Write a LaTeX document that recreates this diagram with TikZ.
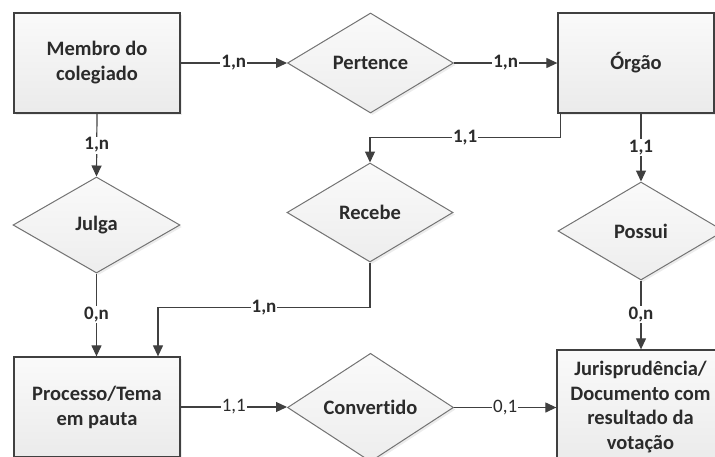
\documentclass[tikz,border=0pt]{standalone}
\usepackage{fontspec}
\setmainfont{Carlito}[Ligatures=NoCommon]
\usetikzlibrary{shapes.geometric,arrows.meta,shadows}

\definecolor{edgegray}{HTML}{404040}
\definecolor{inkgray}{HTML}{2B2B2B}

\begin{document}
\begin{tikzpicture}[x=1pt,y=-1pt,
  softshadow/.style={drop shadow={shadow xshift=2pt,shadow yshift=-2pt,opacity=0.12,fill=black!60}},
  entity/.style={rectangle,draw=edgegray,line width=1.3pt,
    top color=white!98!black,bottom color=white!92!black,
    minimum width=166pt,minimum height=100pt,inner sep=0pt,align=center,
    font=\bfseries\fontsize{20.5}{25}\selectfont,text=inkgray,softshadow},
  relation/.style={diamond,draw=black!55,line width=1pt,
    top color=white!98!black,bottom color=white!93!black,
    minimum width=166pt,minimum height=100pt,inner sep=0pt,align=center,
    font=\bfseries\fontsize{20.5}{25}\selectfont,text=inkgray,softshadow},
  conn/.style={draw=edgegray,line width=1.2pt,-{Triangle[length=11pt,width=10pt]}},
  lab/.style={fill=white,inner sep=1pt,font=\bfseries\fontsize{19}{19}\selectfont,text=inkgray},
  labplain/.style={lab,font=\fontsize{19}{19}\selectfont}]
\useasboundingbox (0,0) rectangle (715,456);

% entities
\node[entity] (m) at (97,63) {Membro do\\colegiado};
\node[entity,minimum width=156pt] (o) at (636,63) {Órgão};
\node[entity] (p) at (97,407) {Processo/Tema\\em pauta};
\node[entity,minimum width=167pt,minimum height=114pt,
  font=\bfseries\fontsize{20.5}{24.5}\selectfont] (jd) at (640.5,407)
  {Jurisprudência/\\Documento com\\resultado da\\votação};

% relationships
\node[relation] (pe) at (370.5,63) {Pertence};
\node[relation,minimum width=167pt,minimum height=96pt] (j) at (96.5,225) {Julga};
\node[relation,minimum height=99pt] (r) at (370,212.5) {Recebe};
\node[relation,minimum height=98pt] (po) at (641,231) {Possui};
\node[relation] (c) at (370.5,407.5) {Convertido};

% connectors with cardinalities
\draw[conn] (m.east) -- node[lab]{1,n} (pe.west);
\draw[conn] (pe.east) -- node[lab]{1,n} (o.west);
\draw[conn] (m.south) -- node[lab]{1,n} (j.north);
\draw[conn] ([xshift=3pt]o.south west) -- ++(0,24) -| node[lab,pos=0.25]{1,1} (r.north);
\draw[conn] (po.north |- o.south) -- node[lab]{1,1} (po.north);
\draw[conn] (j.south) -- node[lab]{0,n} (j.south |- p.north);
\draw[conn] (r.south) -- ++(0,45) -| node[lab,pos=0.25]{1,n} ([xshift=61pt]p.north);
\draw[conn] (po.south) -- node[lab]{0,n} (po.south |- jd.north);
\draw[conn] (p.east) -- node[labplain]{1,1} (p.east -| c.west);
\draw[conn] (c.east) -- node[labplain]{0,1} (c.east -| jd.west);
\end{tikzpicture}
\end{document}
